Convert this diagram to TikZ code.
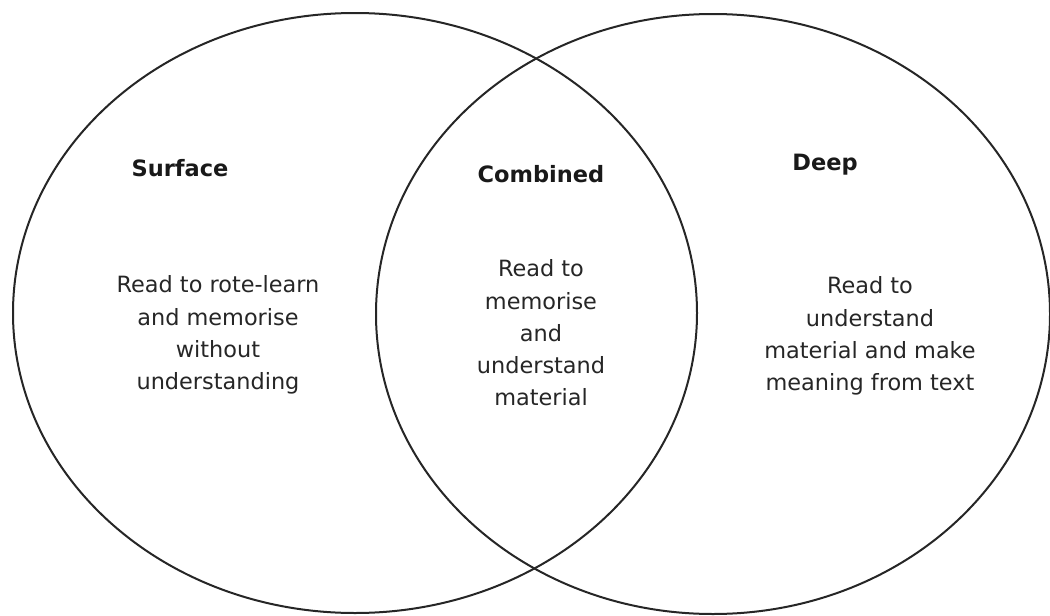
\documentclass[tikz,border=0pt]{standalone}
\usepackage{fontspec}
\setmainfont{DejaVu Sans}
\begin{document}
\begin{tikzpicture}[x=1pt,y=-1pt,
  ring/.style={draw=black!85,line width=2pt},
  head/.style={font=\fontsize{22.5}{32}\selectfont\bfseries,text=black!90,inner sep=0pt},
  body/.style={font=\fontsize{22.4}{32.3}\selectfont,text=black!85,align=center,inner sep=0pt}]
\useasboundingbox (0,0) rectangle (1050,616);
\draw[ring] (355,313) ellipse [x radius=342,y radius=300];
\draw[ring] (713,314) ellipse [x radius=337,y radius=300];
\node[head] (hs) at (180,168) {Surface};
\node[head] (hc) at (541,174) {Combined};
\node[head] (hd) at (825,165) {Deep};
\node[body] (bs) at (218,335) {Read to rote-learn\\and memorise\\without\\understanding};
\node[body] (bc) at (541,333) {Read to\\memorise\\and\\understand\\material};
\node[body] (bd) at (870,336) {Read to\\understand\\material and make\\meaning from text};
\end{tikzpicture}
\end{document}
